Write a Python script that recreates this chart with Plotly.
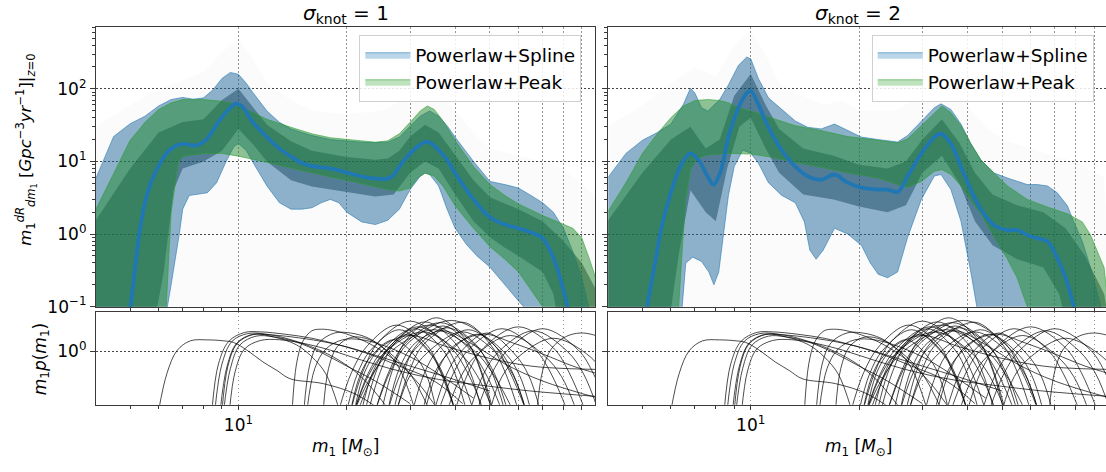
import plotly.graph_objects as go

# ---------------- top panels: left (sigma_knot = 1) ----------------
L_MED_M = [5.0, 5.15, 5.3, 5.6, 6.1, 6.45, 6.9, 7.3, 7.6, 8.1, 8.9, 9.4, 9.8, 10.2, 11, 12, 13, 14, 15, 16,
           18, 20, 22, 24, 26, 27, 28, 30, 32, 33, 34, 36, 38, 40, 45, 50, 55, 60, 65, 70, 75, 80, 83]
L_MED_V = [0.09, 0.3, 1.0, 3.8, 10, 14.5, 17.3, 17.0, 16.5, 19.5, 38, 52, 62, 58, 34, 21.6, 15, 11.6, 9.5, 8.6,
           8.0, 7.0, 6.2, 5.8, 5.8, 6.5, 8.5, 12.9, 17, 18.5, 18.2, 14.3, 10.5, 6.9, 3.0, 1.7, 1.35, 1.2, 1.05, 0.88, 0.47, 0.17, 0.08]

L_SPL_HI_M = [4, 4.5, 5, 5.5, 6, 6.5, 7, 7.5, 8, 8.5, 9, 9.5, 10, 10.5, 11, 12, 13, 14, 15, 16,
              18, 20, 22, 24, 26, 28, 30, 32, 34, 36, 38, 40, 45, 50, 55, 60, 65, 70, 75, 80, 85, 90, 95]
L_SPL_HI_V = [5.6, 22, 33, 42, 58, 71, 76, 72, 75, 97, 139, 168, 158, 120, 87, 49.5, 34.5, 28, 25, 22.7,
              20, 19, 18.4, 18.2, 18.4, 21.6, 31, 42, 49.5, 42, 31, 21.6, 10, 5.3, 4.8, 4.3, 3.4, 2.7, 2.0, 1.2, 0.57, 0.25, 0.08]
L_SPL_LO_M = [4, 6.2, 6.5, 6.85, 7.0, 7.3, 7.7, 8.2, 8.7, 9.2, 9.7, 10, 10.5, 11, 12, 13, 14, 15, 16, 17,
              18, 19, 20, 22, 24, 26, 28, 30, 32, 33, 34, 36, 38, 40, 43, 46, 50, 55, 60, 62, 64, 100]
L_SPL_LO_V = [0.05, 0.05, 0.2, 1.0, 2.2, 3.4, 3.5, 3.7, 5.1, 9.5, 15.9, 17.6, 14.3, 9.5, 4.6, 2.7, 2.2, 2.2, 2.3, 2.7,
              3.0, 2.7, 2.0, 1.47, 1.35, 1.55, 2.2, 4.1, 6.25, 6.9, 6.6, 4.6, 2.2, 1.2, 0.72, 0.5, 0.35, 0.2, 0.12, 0.1, 0.06, 0.05]

L_PK_HI_M = [4, 4.5, 5, 5.5, 6, 6.5, 7, 8, 9, 9.5, 10, 11, 12, 14, 16, 18, 20, 22, 24, 26,
             28, 30, 32, 33.5, 35, 37, 40, 45, 50, 55, 60, 70, 80, 85, 90, 95, 100]
L_PK_HI_V = [2.1, 6.9, 19.5, 34.5, 52, 64, 71, 71, 67.5, 64, 58, 47, 38, 29.5, 24, 21.2, 20, 19, 18.4, 19.2,
             24, 34.5, 49.5, 58, 52, 36.3, 19.5, 8.5, 4.8, 3.4, 2.6, 1.8, 1.35, 1.2, 0.88, 0.42, 0.19]
L_PK_LO_M = [4, 6.0, 6.3, 6.5, 6.8, 7, 8, 9, 10, 11, 12, 14, 16, 18, 20, 22, 24, 26, 28, 30,
             31.5, 33, 35, 37, 40, 45, 50, 55, 60, 65, 70, 72, 100]
L_PK_LO_V = [0.05, 0.05, 0.1, 1.97, 9.5, 11.8, 12.9, 12.9, 11.8, 10.7, 9.7, 8.1, 6.9, 6.1, 5.5, 5.0, 4.5, 4.1, 3.9, 4.3,
             5.9, 6.9, 6.25, 4.6, 2.45, 1.2, 0.67, 0.45, 0.3, 0.17, 0.1, 0.06, 0.05]

L_CORE_HI_M = [4, 5, 6, 7, 8, 9, 10, 11, 12, 14, 16, 20, 24, 26, 28, 30, 33, 36, 40, 45, 50, 60, 70, 80, 90, 100]
L_CORE_HI_V = [1.5, 8, 25, 35, 38, 70, 100, 55, 32, 19, 14, 11.5, 10.5, 11, 14, 22, 32, 25, 12, 5.5, 3.2, 2.2, 1.5, 0.8, 0.4, 0.15]
L_CORE_LO_M = [4, 5.8, 6.2, 6.6, 7, 8, 9, 10, 11, 12, 14, 16, 20, 24, 27, 30, 33, 36, 40, 45, 50, 55, 60, 70, 75, 78, 100]
L_CORE_LO_V = [0.05, 0.05, 0.3, 4, 8, 10, 14, 28, 17, 10, 5.5, 4.5, 3.8, 3.3, 3.5, 7, 10, 8, 3.5, 1.5, 0.9, 0.65, 0.5, 0.3, 0.15, 0.05, 0.05]

L_ENV_HI_M = [4, 5, 6, 7, 8, 9, 10, 11, 12, 14, 16, 20, 25, 30, 33, 36, 40, 45, 50, 60, 70, 80, 90, 100]
L_ENV_HI_V = [30, 60, 100, 130, 170, 320, 500, 250, 120, 70, 50, 45, 50, 80, 120, 90, 50, 25, 15, 12, 10, 8, 5, 3]
L_ENV_LO_M = [4, 100]
L_ENV_LO_V = [0.05, 0.05]

# ---------------- top panels: right (sigma_knot = 2) ----------------
R_MED_M = [5.15, 5.43, 5.67, 6.04, 6.44, 6.79, 7.16, 7.63, 7.88, 8.22, 8.67, 9.25, 9.75, 10, 10.5, 11.2, 12.2, 13.3, 14.4, 15.7,
           17.1, 18.6, 20.3, 22.6, 24.0, 25.6, 27.3, 29.8, 32.4, 33.8, 36, 38.4, 40.9, 43.6, 47.5, 51.7, 55.1, 58.7, 62.6, 66.8,
           71.1, 75.9, 79.1, 81]
R_MED_V = [0.1, 0.42, 1.32, 4.1, 9.5, 12.9, 10.5, 5.9, 4.8, 6.9, 21.6, 55, 87, 94, 61, 29.5, 14.3, 8.5, 6.25, 5.6,
           6.6, 5.1, 4.35, 4.1, 4.1, 3.8, 6.25, 12.9, 21.6, 24, 17.6, 8.5, 4.1, 2.2, 1.32, 1.13, 1.13, 0.97, 0.87, 0.79,
           0.47, 0.21, 0.1, 0.07]

R_SPL_HI_M = [4, 4.5, 5, 5.5, 6, 6.5, 6.8, 7, 7.3, 7.6, 8.2, 8.67, 9.25, 9.75, 10, 10.5, 11.2, 12.2, 13.3, 14.4,
              15.7, 17.1, 18.6, 20.3, 22.6, 24, 25.6, 27.3, 29.8, 32.4, 33.8, 36, 38.4, 40.9, 43.6, 47.5, 51.7, 55.1, 58.7, 62.6,
              66.8, 71.1, 75.9, 79.1, 83.5, 88, 92, 96]
R_SPL_HI_V = [5.9, 12.9, 19.5, 25, 32.7, 61, 102, 87, 55, 49.5, 71, 113, 211, 273, 259, 139, 75, 52, 36, 29.5,
              28, 32.7, 26.6, 21.6, 20, 19.2, 18.5, 22.7, 36.3, 55, 62, 52, 32.7, 17.6, 10.5, 6.9, 5.9, 5.3, 4.8, 4.8,
              4.6, 3.7, 2.45, 1.47, 0.79, 0.345, 0.15, 0.07]
R_SPL_LO_M = [4, 6.3, 6.45, 6.6, 6.9, 7.3, 7.65, 7.9, 8.15, 8.4, 8.67, 9.0, 9.5, 10, 10.5, 11.2, 12.2, 13.3, 14.1, 14.6,
              15.2, 15.9, 17.1, 18.6, 20.3, 21.5, 22.6, 24, 25.6, 27.3, 29.8, 32.4, 33.8, 36, 38.4, 40.9, 42.5, 44, 100]
R_SPL_LO_V = [0.05, 0.05, 0.1, 0.4, 0.48, 0.42, 0.3, 0.2, 0.3, 1.0, 3.4, 8.5, 14.3, 13, 9.5, 5.1, 3.4, 2.7, 1.47, 0.6,
              0.45, 0.6, 1.2, 1.0, 0.7, 0.4, 0.28, 0.25, 0.3, 0.9, 3.0, 6.3, 6.6, 4.1, 1.5, 0.3, 0.1, 0.05, 0.05]

R_PK_HI_M = [4, 4.5, 5, 5.5, 6, 6.5, 7, 7.6, 8.2, 8.67, 9.25, 10, 11.2, 12.2, 13.3, 15.7, 18.6, 22.6, 25.6, 27.3,
             29.8, 32.4, 34, 36, 38.4, 40.9, 43.6, 47.5, 51.7, 58.7, 66.8, 75.9, 83.5, 88, 92, 96]
R_PK_HI_V = [2.0, 5.1, 12.9, 24, 40, 58, 69, 71, 69, 64, 55, 49.5, 41, 35.5, 31, 26.6, 22, 19.5, 18, 20.5,
             31, 47, 58, 47, 31, 17.6, 10.5, 6.9, 4.6, 3.0, 2.35, 1.9, 1.47, 0.97, 0.57, 0.345]
R_PK_LO_M = [4, 6.0, 6.3, 6.45, 6.6, 6.8, 7.1, 7.6, 8.67, 10, 11.2, 12.2, 13.3, 15.7, 18.6, 22.6, 25.6, 27.3, 29.8, 32.4,
             34, 36, 38.4, 40.9, 43.6, 47.5, 51.7, 55, 58.7, 61, 100]
R_PK_LO_V = [0.05, 0.05, 0.09, 0.6, 3.0, 7.7, 11, 12.3, 12.9, 12.6, 11.6, 10.7, 9.9, 8.3, 7.0, 5.9, 4.8, 4.4, 5.3, 7.3,
             7.7, 6.6, 4.6, 2.9, 1.9, 0.9, 0.45, 0.25, 0.1, 0.06, 0.05]

R_CORE_HI_M = [4, 5, 6, 6.8, 7.5, 8.2, 9, 10, 11, 12, 14, 17, 20, 24, 27, 30, 34, 38, 42, 47, 55, 65, 75, 85, 96]
R_CORE_HI_V = [1.5, 7, 20, 30, 15, 20, 80, 160, 60, 28, 15, 12, 9, 8, 10, 20, 38, 18, 7, 3.5, 2.5, 2.0, 1.2, 0.5, 0.15]
R_CORE_LO_M = [4, 5.9, 6.3, 6.8, 7.5, 8.0, 8.6, 9.3, 10, 11, 12, 14, 17, 20, 24, 27, 30, 34, 38, 42, 47, 55, 65, 72, 76, 100]
R_CORE_LO_V = [0.05, 0.05, 0.5, 4, 2.0, 1.5, 8, 30, 40, 15, 7, 3.5, 3.0, 2.4, 2.0, 2.5, 7, 12, 5, 1.5, 0.7, 0.45, 0.35, 0.15, 0.05, 0.05]

R_ENV_HI_M = [4, 5, 6, 7, 8, 9, 10, 11, 12, 14, 16, 18, 20, 25, 30, 34, 38, 45, 50, 60, 70, 80, 96]
R_ENV_HI_V = [30, 60, 120, 200, 150, 400, 650, 300, 120, 80, 60, 70, 50, 50, 80, 150, 80, 30, 20, 15, 12, 10, 6]
R_ENV_LO_M = [4, 100]
R_ENV_LO_V = [0.05, 0.05]

# ---------------- bottom panels: m1 p(m1) curves (same in both columns) ----------------
CURVES_M = [
    [6.0, 6.33, 6.75, 7.35, 8.2, 9.1, 9.7, 10.6, 11.7, 12.8, 13.9, 17.2, 21, 25],
    [8.44, 8.8, 9.4, 10.4, 11.5, 13.5, 16, 19, 23, 28, 35, 42],
    [8.6, 9.0, 9.6, 10.6, 12, 14, 16.5, 19, 22, 26],
    [9.0, 9.35, 9.9, 10.9, 12.2, 14, 17, 20, 24, 30, 38, 50],
    [9.1, 9.5, 10.1, 11.2, 12.5, 14.5, 17, 20, 24, 30],
    [9.44, 9.8, 10.4, 11.5, 13, 15, 18, 22, 28, 36, 48, 65, 100],
    [8.9, 9.3, 9.9, 11, 12.5, 14.5, 16, 17.5, 19],
    [14.1, 14.5, 15.1, 16, 17, 18.5, 21, 24, 28, 32, 36],
    [15.2, 15.8, 16.7, 18.5, 20.5, 23, 26, 30, 34],
    [15.5, 16.3, 17.5, 19.5, 22, 25, 30, 36, 45],
    [17.2, 17.8, 18.8, 20.5, 22.5, 25, 28, 31],
    [20, 21.4, 23.3, 28, 33.5, 36.8, 40],
    [20.5, 22.2, 24.5, 30, 37, 41, 45],
    [21, 22.9, 25.5, 31.5, 39, 43.5, 48],
    [23, 24.8, 27.2, 33, 40, 44, 47.5],
    [25, 26.8, 29.2, 35.5, 43, 47, 50.5],
    [21.5, 23.8, 26.7, 34, 43, 48.5, 54],
    [24, 26.2, 29, 36.3, 45.5, 50.5, 55],
    [26, 28.2, 31, 38, 46.5, 51.5, 56],
    [27.5, 29.8, 32.8, 42, 50, 55, 60],
    [27.5, 30, 33.5, 42, 52, 58, 63],
    [22, 23.4, 25.2, 29.5, 34.5, 37.2, 40],
    [21, 23.6, 26.8, 35, 45, 51, 58],
    [27, 28.8, 31, 37, 44, 47.5, 51],
    [21, 23, 25.5, 32.5, 41, 46, 51],
    [30.5, 32.8, 35.8, 43.5, 53, 58, 63],
    [20.5, 21.6, 23, 27, 31.5, 33.6, 35.5],
    [24, 26.5, 29.8, 39, 50.5, 56.5, 63],
    [22.5, 24, 26, 31, 36.8, 40, 43],
    [32.5, 34.8, 38, 46, 55.5, 60.5, 65],
    [19, 20.6, 22.8, 27.5, 33.5, 36.5, 40],
    [36, 39.5, 43.5, 54, 67, 74, 82],
    [40, 43.5, 48, 60, 75, 83, 92],
    [44, 48, 53, 66, 82, 91, 100],
    [35, 37.8, 41, 49, 58.5, 64, 69],
    [46, 50.5, 56, 70, 88, 97, 107],
    [38, 41.5, 45.5, 57, 71, 79, 87],
    [67.5, 70, 74, 81, 89, 97, 105],
    [50, 54, 60, 75, 95, 105],
    [21, 22.5, 25, 30, 38, 50, 65, 80, 100],
    [26, 28, 31, 37, 45, 55, 70, 100],
    [33, 36, 40, 48, 58, 70, 85, 100],
]
CURVES_V = [
    [0.09, 0.41, 1.03, 1.53, 1.59, 1.53, 1.43, 1.03, 0.65, 0.46, 0.33, 0.27, 0.18, 0.09],
    [0.09, 0.6, 1.5, 2.15, 2.2, 2.0, 1.7, 1.3, 0.9, 0.55, 0.3, 0.12],
    [0.09, 0.6, 1.5, 2.05, 2.0, 1.6, 1.1, 0.7, 0.35, 0.1],
    [0.09, 0.55, 1.35, 1.95, 1.95, 1.8, 1.5, 1.2, 0.85, 0.55, 0.35, 0.2],
    [0.09, 0.5, 1.3, 1.85, 1.8, 1.45, 0.95, 0.55, 0.3, 0.12],
    [0.09, 0.45, 1.1, 1.55, 1.6, 1.4, 1.05, 0.7, 0.45, 0.32, 0.25, 0.2, 0.16],
    [0.09, 0.55, 1.4, 2.0, 1.8, 1.3, 0.8, 0.4, 0.1],
    [0.09, 0.6, 1.5, 2.3, 2.45, 2.3, 1.8, 1.2, 0.6, 0.25, 0.09],
    [0.09, 0.6, 1.4, 2.1, 2.1, 1.7, 1.0, 0.4, 0.09],
    [0.09, 0.5, 1.1, 1.6, 1.6, 1.3, 0.8, 0.4, 0.15],
    [0.09, 0.5, 1.2, 1.75, 1.7, 1.2, 0.5, 0.09],
    [0.09, 0.4, 1.05, 2.4, 1.05, 0.4, 0.09],
    [0.09, 0.45, 1.45, 3.4, 1.45, 0.45, 0.09],
    [0.09, 0.4, 1.15, 2.7, 1.15, 0.4, 0.09],
    [0.09, 0.44, 1.4, 3.3, 1.4, 0.44, 0.09],
    [0.09, 0.47, 1.55, 3.9, 1.55, 0.47, 0.09],
    [0.09, 0.42, 1.25, 2.9, 1.25, 0.42, 0.09],
    [0.09, 0.44, 1.35, 3.2, 1.35, 0.44, 0.09],
    [0.09, 0.4, 1.1, 2.6, 1.1, 0.4, 0.09],
    [0.09, 0.44, 1.35, 3.25, 1.35, 0.44, 0.09],
    [0.09, 0.38, 0.95, 2.2, 0.95, 0.38, 0.09],
    [0.09, 0.37, 0.88, 2.0, 0.88, 0.37, 0.09],
    [0.09, 0.4, 1.05, 2.4, 1.05, 0.4, 0.09],
    [0.09, 0.42, 1.2, 2.8, 1.2, 0.42, 0.09],
    [0.09, 0.38, 0.95, 2.2, 0.95, 0.38, 0.09],
    [0.09, 0.4, 1.05, 2.4, 1.05, 0.4, 0.09],
    [0.09, 0.33, 0.72, 1.6, 0.72, 0.33, 0.09],
    [0.09, 0.46, 1.45, 3.5, 1.45, 0.46, 0.09],
    [0.09, 0.4, 1.1, 2.5, 1.1, 0.4, 0.09],
    [0.09, 0.37, 0.88, 2.0, 0.88, 0.37, 0.09],
    [0.09, 0.42, 1.25, 2.9, 1.25, 0.42, 0.09],
    [0.09, 0.4, 1.05, 2.5, 1.05, 0.4, 0.09],
    [0.09, 0.42, 1.15, 2.7, 1.15, 0.42, 0.09],
    [0.09, 0.4, 1.0, 2.3, 1.0, 0.4, 0.09],
    [0.09, 0.38, 0.9, 2.1, 0.9, 0.38, 0.09],
    [0.09, 0.4, 1.05, 2.5, 1.05, 0.4, 0.09],
    [0.09, 0.36, 0.82, 1.9, 0.82, 0.36, 0.09],
    [0.09, 0.45, 1.1, 1.8, 2.1, 1.95, 1.6],
    [0.09, 0.36, 0.8, 1.7, 0.8, 0.36],
    [0.09, 0.45, 1.2, 1.9, 1.2, 0.75, 0.55, 0.5, 0.48],
    [0.09, 0.5, 1.4, 2.3, 1.3, 0.6, 0.3, 0.15],
    [0.09, 0.5, 1.3, 2.0, 1.4, 0.9, 0.55, 0.4],
]

# tick values / labels
X_MAJOR = [10, 20, 30, 40, 50, 60, 70, 80, 90]
X_MAJOR_TEXT = ["10<sup>1</sup>", "", "", "", "", "", "", "", ""]
X_MINOR = [5, 6, 7, 8, 9]
Y_TOP_TICKS = [0.1, 1, 10, 100]
Y_TOP_TEXT = ["10<sup>\u22121</sup>", "10<sup>0</sup>", "10<sup>1</sup>", "10<sup>2</sup>"]
Y_TOP_MINOR = [0.2, 0.3, 0.4, 0.5, 0.6, 0.7, 0.8, 0.9, 2, 3, 4, 5, 6, 7, 8, 9,
               20, 30, 40, 50, 60, 70, 80, 90, 200, 300, 400, 500, 600, 700]
Y_BOT_TICKS = [1]
Y_BOT_TEXT = ["10<sup>0</sup>"]

BLUE = "31,119,180"
GREEN = "44,160,44"
FONT = "DejaVu Sans, Arial, sans-serif"

W, H = 1106, 472
fig = go.Figure()


def band(hi_m, hi_v, lo_m, lo_v, xa, ya, fill, line, name=None, legend=None, lw=0):
    fig.add_trace(go.Scatter(
        x=list(hi_m) + list(lo_m)[::-1], y=list(hi_v) + list(lo_v)[::-1],
        mode="lines", fill="toself", fillcolor=fill,
        line=dict(color=line, width=lw),
        xaxis=xa, yaxis=ya, hoverinfo="skip",
        name=name if name else "", showlegend=bool(name),
        legend=legend if legend else "legend"))


panels = [
    ("x", "y", "legend", L_ENV_HI_M, L_ENV_HI_V, L_ENV_LO_M, L_ENV_LO_V,
     L_SPL_HI_M, L_SPL_HI_V, L_SPL_LO_M, L_SPL_LO_V,
     L_CORE_HI_M, L_CORE_HI_V, L_CORE_LO_M, L_CORE_LO_V,
     L_PK_HI_M, L_PK_HI_V, L_PK_LO_M, L_PK_LO_V, L_MED_M, L_MED_V),
    ("x2", "y2", "legend2", R_ENV_HI_M, R_ENV_HI_V, R_ENV_LO_M, R_ENV_LO_V,
     R_SPL_HI_M, R_SPL_HI_V, R_SPL_LO_M, R_SPL_LO_V,
     R_CORE_HI_M, R_CORE_HI_V, R_CORE_LO_M, R_CORE_LO_V,
     R_PK_HI_M, R_PK_HI_V, R_PK_LO_M, R_PK_LO_V, R_MED_M, R_MED_V),
]

for (xa, ya, lg, ehm, ehv, elm, elv, shm, shv, slm, slv,
     chm, chv, clm, clv, phm, phv, plm, plv, mm, mv) in panels:
    # faint haze of posterior traces
    band(ehm, ehv, elm, elv, xa, ya, "rgba(0,0,0,0.017)", "rgba(0,0,0,0)")
    # dense traces inside the spline 90% region
    band(shm, shv, slm, slv, xa, ya, "rgba(0,0,0,0.13)", "rgba(0,0,0,0)")
    band(chm, chv, clm, clv, xa, ya, "rgba(0,15,25,0.45)", "rgba(0,0,0,0)")
    # extra tint so the overlapped regions read as in the reference
    band(shm, shv, slm, slv, xa, ya, f"rgba({BLUE},0.15)", "rgba(0,0,0,0)")
    # credible bands (legend entries)
    band(shm, shv, slm, slv, xa, ya, f"rgba({BLUE},0.3)", f"rgba({BLUE},0.55)",
         name="Powerlaw+Spline", legend=lg, lw=1)
    band(phm, phv, plm, plv, xa, ya, "rgba(15,105,45,0.28)", "rgba(0,0,0,0)")
    band(phm, phv, plm, plv, xa, ya, f"rgba({GREEN},0.3)", f"rgba({GREEN},0.55)",
         name="Powerlaw+Peak", legend=lg, lw=1)
    # median
    fig.add_trace(go.Scatter(x=mm, y=mv, mode="lines", line=dict(color=f"rgb({BLUE})", width=3.8, shape="spline"),
                             xaxis=xa, yaxis=ya, showlegend=False, hoverinfo="skip"))

for xa, ya in (("x3", "y3"), ("x4", "y4")):
    for cm, cv in zip(CURVES_M, CURVES_V):
        fig.add_trace(go.Scatter(x=cm, y=cv, mode="lines",
                                 line=dict(color="rgba(0,0,0,0.7)", width=1, shape="spline", smoothing=1),
                                 xaxis=xa, yaxis=ya, showlegend=False, hoverinfo="skip"))

# ---------------- layout ----------------
LX0, LX1 = 96 / W, 595 / W
RX0, RX1 = 608.3 / W, 1.0
TY0, TY1 = 1 - 313.3 / H, 1 - 28 / H
BY0, BY1 = 1 - 413.5 / H, 1 - 318.3 / H
XMIN = 0.6042
XMAX_L = 1.9908
XMAX_R = XMIN + (1106 - 608.3) / 359.8

axis_line = dict(showline=True, linecolor="#3a3a3a", linewidth=1.2)
tickfont = dict(family=FONT, size=17, color="black")
DOTS = "1.5px,2.5px"


def xaxis(domain, rng, anchor, labels):
    return dict(domain=domain, type="log", range=rng, anchor=anchor,
                tickmode="array", tickvals=X_MAJOR, ticktext=X_MAJOR_TEXT,
                showticklabels=labels, ticks="outside", ticklen=4.5, tickwidth=1, tickcolor="#3a3a3a",
                minor=dict(tickmode="array", tickvals=X_MINOR, ticks="outside", ticklen=3,
                           tickcolor="#3a3a3a", showgrid=False),
                showgrid=True, gridcolor="rgba(0,0,0,0.42)", griddash=DOTS, gridwidth=1,
                mirror=True, zeroline=False, tickfont=tickfont, **axis_line)


def yaxis(domain, rng, anchor, vals, text, minor, labels, mirror):
    d = dict(domain=domain, type="log", range=rng, anchor=anchor,
             tickmode="array", tickvals=vals, ticktext=text,
             showticklabels=labels, ticks="outside", ticklen=5, tickwidth=1, tickcolor="#3a3a3a",
             showgrid=True, gridcolor="rgba(0,0,0,0.72)", griddash=DOTS, gridwidth=1,
             mirror=mirror, zeroline=False, tickfont=tickfont, **axis_line)
    if minor:
        d["minor"] = dict(tickmode="array", tickvals=minor, ticks="outside", ticklen=3,
                          tickcolor="#3a3a3a", showgrid=False)
    return d


legend_common = dict(bgcolor="rgba(255,255,255,0.85)", bordercolor="#d0d0d0", borderwidth=1,
                     font=dict(family=FONT, size=18.5, color="black"), itemwidth=45,
                     xanchor="left", yanchor="top", tracegroupgap=0)

fig.update_layout(
    width=W, height=H, margin=dict(l=0, r=0, t=0, b=0),
    paper_bgcolor="white", plot_bgcolor="white",
    font=dict(family=FONT, size=17, color="black"),
    xaxis=xaxis([LX0, LX1], [XMIN, XMAX_L], "y", False),
    xaxis2=xaxis([RX0, RX1], [XMIN, XMAX_R], "y2", False),
    xaxis3=xaxis([LX0, LX1], [XMIN, XMAX_L], "y3", True),
    xaxis4=xaxis([RX0, RX1], [XMIN, XMAX_R], "y4", True),
    yaxis=yaxis([TY0, TY1], [-1, 2.845], "x", Y_TOP_TICKS, Y_TOP_TEXT, Y_TOP_MINOR, True, True),
    yaxis2=yaxis([TY0, TY1], [-1, 2.845], "x2", Y_TOP_TICKS, Y_TOP_TEXT, Y_TOP_MINOR, False, False),
    yaxis3=yaxis([BY0, BY1], [-0.94, 0.70], "x3", Y_BOT_TICKS, Y_BOT_TEXT, None, True, True),
    yaxis4=yaxis([BY0, BY1], [-0.94, 0.70], "x4", Y_BOT_TICKS, Y_BOT_TEXT, None, False, False),
    legend=dict(x=359.3 / W, y=1 - 36 / H, **legend_common),
    legend2=dict(x=871.7 / W, y=1 - 36 / H, **legend_common),
)

ann = [
    dict(text="<i>\u03c3</i><sub>knot</sub> = 1", x=345.5 / W, y=1 - 14 / H, size=20),
    dict(text="<i>\u03c3</i><sub>knot</sub> = 2", x=858 / W, y=1 - 14 / H, size=20),
    dict(text="<i>m</i><sub>1</sub> [<i>M</i><sub>\u2299</sub>]", x=345.5 / W, y=1 - 457 / H, size=17),
    dict(text="<i>m</i><sub>1</sub> [<i>M</i><sub>\u2299</sub>]", x=858 / W, y=1 - 457 / H, size=17),
]
for a in ann:
    fig.add_annotation(text=a["text"], x=a["x"], y=a["y"], xref="paper", yref="paper",
                       xanchor="center", yanchor="middle", showarrow=False,
                       font=dict(family=FONT, size=a["size"], color="black"))

fig.add_annotation(
    text="<i>m</i><sub>1</sub><sup><i>dR</i></sup><sub><i>dm</i><sub>1</sub></sub> [<i>Gpc</i><sup>\u22123</sup><i>yr</i><sup>\u22121</sup>]|<sub><i>z</i>=0</sub>",
    x=26 / W, y=1 - 153 / H, xref="paper", yref="paper", textangle=-90,
    xanchor="center", yanchor="middle", showarrow=False, font=dict(family=FONT, size=16.5, color="black"))
fig.add_annotation(
    text="<i>m</i><sub>1</sub><i>p</i>(<i>m</i><sub>1</sub>)",
    x=41 / W, y=1 - 367 / H, xref="paper", yref="paper", textangle=-90,
    xanchor="center", yanchor="middle", showarrow=False, font=dict(family=FONT, size=17, color="black"))

fig.write_html("out.html")
